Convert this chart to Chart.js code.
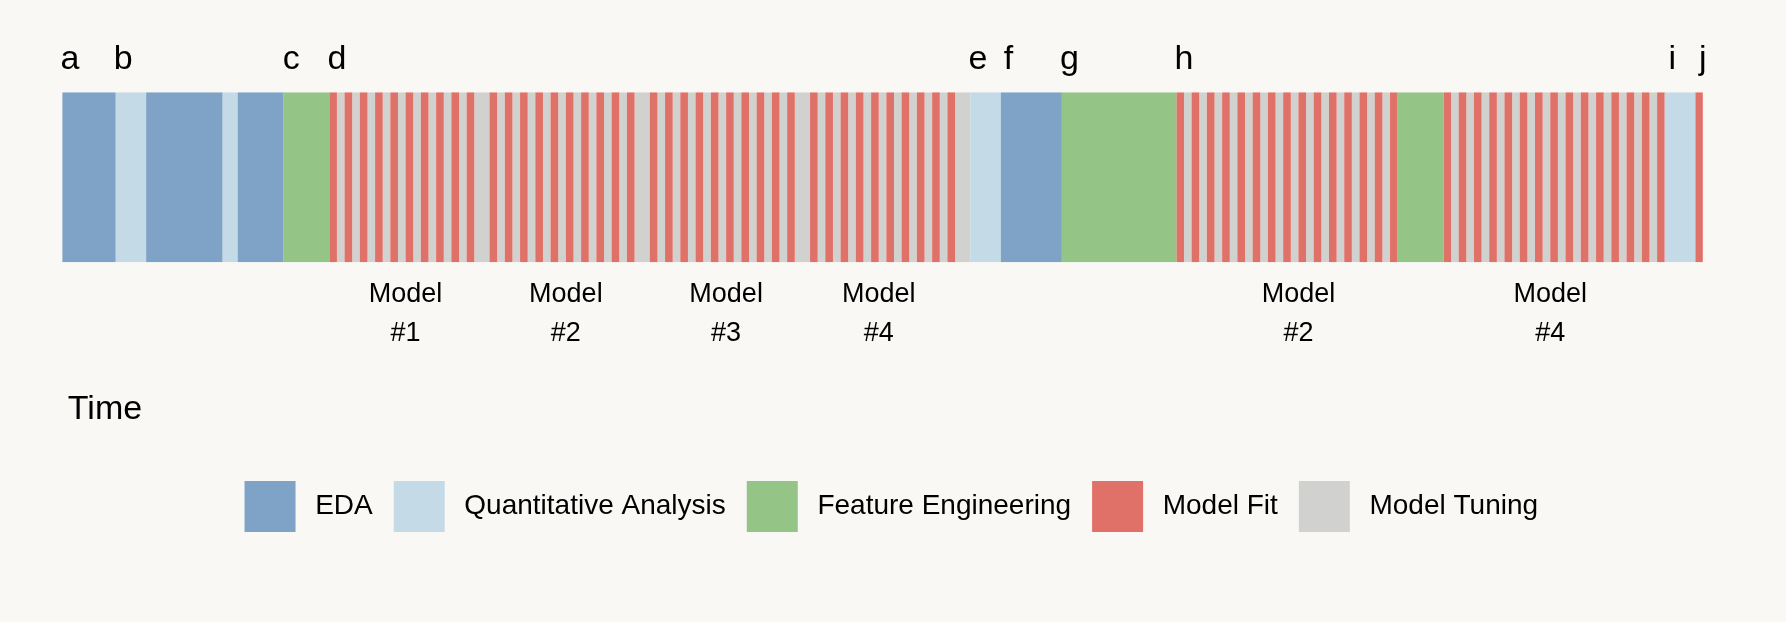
<!DOCTYPE html>
<html>
<head>
<meta charset="utf-8">
<script src="https://cdn.jsdelivr.net/npm/chart.js@4.4.1/dist/chart.umd.min.js"></script>
<style>
  html, body { margin: 0; padding: 0; background: #F9F8F5; }
  #wrap { width: 1786px; height: 622px; position: relative; }
  canvas { display: block; }
</style>
</head>
<body>
<div id="wrap"><canvas id="chart" width="1786" height="622"></canvas></div>
<script>
// ---------------- DATA ----------------
const activityCodes = ['E', 'Q', 'F', 'M', 'T'];
const activityNames = ['EDA', 'Quantitative Analysis', 'Feature Engineering', 'Model Fit', 'Model Tuning'];

// Sequence of activities in time order (codes) and their durations (time units)
const segmentActivity = [
  'E','Q','E','Q','E','F',
  // Model #1
  'M','T','M','T','M','T','M','T','M','T','M','T','M','T','M','T','M','T','M','T',
  // Model #2
  'M','T','M','T','M','T','M','T','M','T','M','T','M','T','M','T','M','T','M','T',
  // Model #3
  'M','T','M','T','M','T','M','T','M','T','M','T','M','T','M','T','M','T','M','T',
  // Model #4
  'M','T','M','T','M','T','M','T','M','T','M','T','M','T','M','T','M','T','M','T',
  'Q','E','F',
  // Model #2 (second round)
  'M','T','M','T','M','T','M','T','M','T','M','T','M','T','M','T','M','T','M','T','M','T','M','T','M','T','M','T','M',
  'F',
  // Model #4 (second round)
  'M','T','M','T','M','T','M','T','M','T','M','T','M','T','M','T','M','T','M','T','M','T','M','T','M','T','M','T','M',
  'Q','M'
];
const segmentDuration = [
  7,4,10,2,6,6,
  1,1,1,1,1,1,1,1,1,1,1,1,1,1,1,1,1,1,1,2,
  1,1,1,1,1,1,1,1,1,1,1,1,1,1,1,1,1,1,1,2,
  1,1,1,1,1,1,1,1,1,1,1,1,1,1,1,1,1,1,1,2,
  1,1,1,1,1,1,1,1,1,1,1,1,1,1,1,1,1,1,1,2,
  4,8,15,
  1,1,1,1,1,1,1,1,1,1,1,1,1,1,1,1,1,1,1,1,1,1,1,1,1,1,1,1,1,
  6,
  1,1,1,1,1,1,1,1,1,1,1,1,1,1,1,1,1,1,1,1,1,1,1,1,1,1,1,1,1,
  4,1
];

const eventLabels = ['a','b','c','d','e','f','g','h','i','j'];
const eventTimes  = [1, 8, 30, 36, 120, 124, 132, 147, 211, 215];

const modelLabels     = ['Model #1','Model #2','Model #3','Model #4','Model #2','Model #4'];
const modelLabelTimes = [45, 66, 87, 107, 162, 195];

const rowCategories = ['Project'];
const timeAxisTitle = 'Time';
const timeMin = 0;
const timeMax = 215;

// ---------------- STYLE ----------------
const activityColors = ['#7FA3C6', '#C5DAE7', '#95C487', '#E07168', '#D1D1CF'];
const BG = '#F9F8F5';
const FONT = "'Liberation Sans', Arial, Helvetica, sans-serif";

// ---------------- BUILD DATASETS ----------------
const datasets = activityNames.map((name, k) => ({
  label: name,
  data: [],
  backgroundColor: activityColors[k],
  borderWidth: 0,
  inflateAmount: 0
}));
let cursor = 0;
segmentActivity.forEach((code, i) => {
  const k = activityCodes.indexOf(code);
  const start = cursor;
  const end = cursor + segmentDuration[i];
  datasets[k].data.push({ x: [start, end], y: rowCategories[0] });
  cursor = end;
});

Chart.defaults.font.family = FONT;
Chart.defaults.color = '#000';

const bgPlugin = {
  id: 'bg',
  beforeDraw(chart) {
    const c = chart.ctx;
    c.save();
    c.fillStyle = BG;
    c.fillRect(0, 0, chart.width, chart.height);
    c.restore();
  }
};

const annotPlugin = {
  id: 'annot',
  afterDatasetsDraw(chart) {
    const c = chart.ctx;
    const xs = chart.scales.x;
    const area = chart.chartArea;
    c.save();
    c.fillStyle = '#000';
    c.textAlign = 'center';
    c.textBaseline = 'alphabetic';
    c.font = '34px ' + FONT;
    eventLabels.forEach((t, i) => {
      c.fillText(t, xs.getPixelForValue(eventTimes[i]), area.top - 23.5);
    });
    c.font = '27px ' + FONT;
    modelLabels.forEach((t, i) => {
      const parts = t.split(' ');
      const x = xs.getPixelForValue(modelLabelTimes[i]);
      c.fillText(parts[0], x, area.bottom + 39.5);
      c.fillText(parts[1], x, area.bottom + 79);
    });
    c.restore();
  }
};

new Chart(document.getElementById('chart'), {
  type: 'bar',
  data: { labels: rowCategories, datasets },
  options: {
    indexAxis: 'y',
    responsive: false,
    animation: false,
    devicePixelRatio: 1,
    layout: { padding: { left: 0, right: 3.4, top: 92.3, bottom: 80 } },
    datasets: { bar: { grouped: false, categoryPercentage: 1, barPercentage: 1, borderWidth: 0, inflateAmount: 0 } },
    scales: {
      x: {
        type: 'linear', min: timeMin, max: timeMax,
        grid: { display: false, drawTicks: false },
        border: { display: false },
        ticks: { display: false },
        title: {
          display: true, text: '\u2006' + timeAxisTitle, align: 'start', color: '#000',
          font: { family: FONT, size: 34 },
          padding: { top: 127, bottom: 30 }
        }
      },
      y: {
        type: 'category',
        grid: { display: false, drawTicks: false },
        border: { display: false },
        ticks: { display: false },
        afterFit: (s) => { s.width = 62.2; }
      },
      y2: {
        type: 'linear', position: 'right',
        grid: { display: false, drawTicks: false },
        border: { display: false },
        ticks: { display: false },
        afterFit: (s) => { s.width = 79.7; }
      }
    },
    plugins: {
      legend: {
        display: true,
        position: 'bottom',
        labels: {
          boxWidth: 51, boxHeight: 51, padding: 21, color: '#000',
          font: { family: FONT, size: 28 },
          generateLabels: (chart) => chart.data.datasets.map((ds, i) => ({
            text: '\u2009' + ds.label,
            fillStyle: ds.backgroundColor,
            strokeStyle: ds.backgroundColor,
            lineWidth: 0,
            hidden: false,
            datasetIndex: i,
            fontColor: '#000'
          }))
        }
      },
      tooltip: { enabled: false }
    }
  },
  plugins: [bgPlugin, annotPlugin]
});
</script>
</body>
</html>
